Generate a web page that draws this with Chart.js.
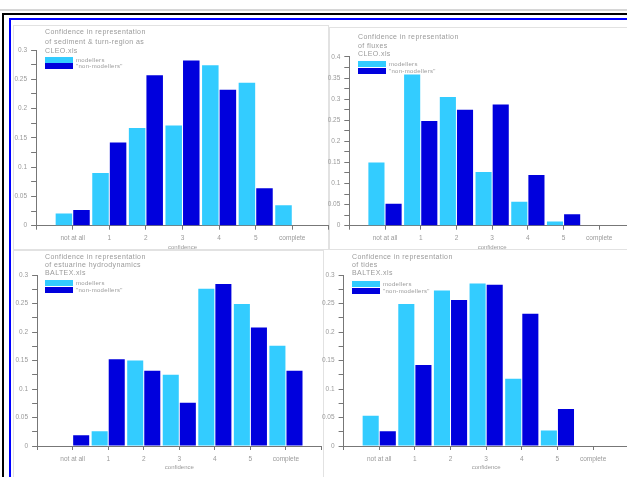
<!DOCTYPE html>
<html><head><meta charset="utf-8">
<script src="https://cdn.jsdelivr.net/npm/chart.js@4/dist/chart.umd.min.js"></script>
<style>
html,body{margin:0;padding:0;}
body{width:627px;height:477px;overflow:hidden;position:relative;background:#fff;font-family:"Liberation Sans",Arial,sans-serif;}
.abs{position:absolute;}
#topline{left:0;top:9px;width:627px;height:2px;background:#d6d6d6;}
#black{left:2px;top:13px;width:700px;height:600px;border:2px solid #000;box-sizing:border-box;}
#blue{left:9px;top:18px;width:700px;height:600px;border:2px solid #0000ff;box-sizing:border-box;}
.panel{position:absolute;border:1px solid #e2e2e2;box-sizing:border-box;}
canvas{position:absolute;}
.title{position:absolute;font-size:7px;color:#9a9a9a;white-space:pre;letter-spacing:0.4px;}
.lbox{position:absolute;width:28px;height:6px;}
.ltxt{position:absolute;font-size:6px;line-height:6px;color:#9a9a9a;white-space:pre;letter-spacing:0.3px;}
</style>
</head><body>
<div id="topline" class="abs"></div>
<div id="black" class="abs"></div>
<div id="blue" class="abs"></div>
<div class="panel" style="left:13px;top:25px;width:316px;height:225px;"></div>
<div class="panel" style="left:329px;top:27px;width:320px;height:223px;"></div>
<div class="panel" style="left:13px;top:250px;width:311px;height:240px;"></div>
<div class="panel" style="left:323px;top:249px;width:320px;height:240px;"></div>
<script>
// ---- data ----
const categories = ["not at all", "1", "2", "3", "4", "5", "complete"];
const seriesNames = ["modellers", "\"non-modellers\""];

const titles1 = ["Confidence in representation", "of sediment & turn-region as", "CLEO.xls"];
const light1 = [0.021, 0.090, 0.167, 0.171, 0.274, 0.244, 0.035];
const dark1  = [0.027, 0.142, 0.257, 0.282, 0.232, 0.064, 0];

const titles2 = ["Confidence in representation", "of fluxes", "CLEO.xls"];
const light2 = [0.150, 0.358, 0.305, 0.127, 0.057, 0.010, 0];
const dark2  = [0.052, 0.248, 0.275, 0.287, 0.120, 0.027, 0];

const titles3 = ["Confidence in representation", "of estuarine hydrodynamics", "BALTEX.xls"];
const light3 = [0, 0.026, 0.150, 0.125, 0.276, 0.249, 0.176];
const dark3  = [0.019, 0.152, 0.132, 0.076, 0.284, 0.208, 0.132];

const titles4 = ["Confidence in representation", "of tides", "BALTEX.xls"];
const light4 = [0.053, 0.249, 0.273, 0.285, 0.118, 0.027, 0];
const dark4  = [0.026, 0.142, 0.256, 0.283, 0.232, 0.065, 0];

const yMaxes = [0.3, 0.4, 0.3, 0.3];
const yStep = 0.025;
const xAxisTitle = "confidence";

// ---- styling ----
const lightColor = "#33CCFF";
const darkColor = "#0000DD";
const axisColor = "#777777";
const textColor = "#9a9a9a";
const FAMILY = "'Liberation Sans', Arial, sans-serif";
const YW = 26, XH = 28;

function addText(cls, x, y, txt, lh) {
  const d = document.createElement('div');
  d.className = cls;
  d.style.left = x + 'px';
  d.style.top = y + 'px';
  if (lh) d.style.lineHeight = lh + 'px';
  d.textContent = txt;
  document.body.appendChild(d);
  return d;
}
function addBox(x, y, color) {
  const d = document.createElement('div');
  d.className = 'lbox';
  d.style.left = x + 'px';
  d.style.top = y + 'px';
  d.style.background = color;
  document.body.appendChild(d);
}

function makePanel(rect, area, yMax, light, dark, titleLines, titlePos, legPos) {
  const [L, T, W, H] = rect;
  const [cl, ct, cr, cb] = area;
  const cv = document.createElement('canvas');
  cv.width = W; cv.height = H;
  cv.style.left = L + 'px'; cv.style.top = T + 'px';
  cv.style.width = W + 'px'; cv.style.height = H + 'px';
  document.body.appendChild(cv);
  new Chart(cv, {
    type: 'bar',
    data: {
      labels: ['', ...categories, ''],
      datasets: [
        { label: seriesNames[0], data: [null, ...light, null], backgroundColor: lightColor,
          categoryPercentage: 0.96, barPercentage: 0.94, borderWidth: 0 },
        { label: seriesNames[1], data: [null, ...dark, null], backgroundColor: darkColor,
          categoryPercentage: 0.96, barPercentage: 0.94, borderWidth: 0 }
      ]
    },
    options: {
      responsive: false, animation: false, devicePixelRatio: 1,
      layout: { padding: { left: cl - L - YW, top: ct - T, right: L + W - cr, bottom: T + H - cb - XH } },
      plugins: { legend: { display: false }, tooltip: { enabled: false }, title: { display: false } },
      scales: {
        x: {
          type: 'category', offset: false,
          grid: { display: true, offset: false, drawOnChartArea: false, drawTicks: true, tickLength: 4, color: axisColor },
          border: { display: true, color: axisColor, width: 1 },
          ticks: { autoSkip: false, maxRotation: 0, minRotation: 0, padding: 5, color: textColor,
                   font: { size: 6.5, family: FAMILY } },
          title: { display: true, text: xAxisTitle, color: textColor, font: { size: 6, family: FAMILY },
                   padding: { top: 0, bottom: 3 } },
          afterFit(s) { s.height = XH; }
        },
        y: {
          min: 0, max: yMax,
          grid: { display: true, drawOnChartArea: false, drawTicks: true, tickLength: 5, color: axisColor },
          border: { display: true, color: axisColor, width: 1 },
          ticks: { stepSize: yStep, autoSkip: false, padding: 4, color: textColor,
                   font: { size: 6.5, family: FAMILY },
                   callback(v) { const k = Math.round(v / yStep); return k % 2 ? '' : String(Math.round(v * 100) / 100); } },
          afterFit(s) { s.width = YW; }
        }
      }
    }
  });
  addText('title', titlePos[0], titlePos[1], titleLines.join('\n'), titlePos[2]);
  addBox(legPos[0], legPos[1], lightColor);
  addBox(legPos[0], legPos[1] + 6.5, darkColor);
  addText('ltxt', legPos[0] + 31, legPos[1], seriesNames[0]);
  addText('ltxt', legPos[0] + 31, legPos[1] + 6.5, seriesNames[1]);
}

makePanel([0, 20, 340, 240], [36.1, 50, 328.9, 225.7], yMaxes[0], light1, dark1, titles1, [45, 27, 9.5], [45, 56.5]);
makePanel([310, 20, 340, 240], [349.3, 56.9, 635, 225.7], yMaxes[1], light2, dark2, titles2, [358, 33, 8.5], [358, 61]);
makePanel([0, 250, 340, 240], [37.1, 275, 321.5, 446], yMaxes[2], light3, dark3, titles3, [45, 253, 8.2], [45, 280]);
makePanel([310, 250, 340, 240], [343.6, 275, 628.7, 446], yMaxes[3], light4, dark4, titles4, [352, 252.5, 8.3], [352, 281]);
</script>
</body></html>
